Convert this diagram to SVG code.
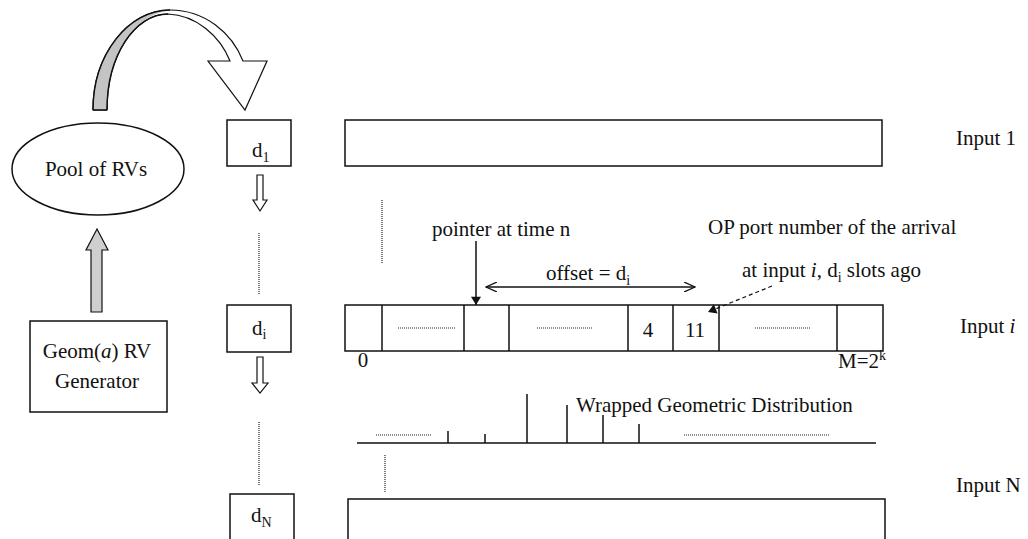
<svg xmlns="http://www.w3.org/2000/svg" width="1028" height="539" viewBox="0 0 1028 539" font-family="'Liberation Serif','Times New Roman',serif">
<style>
text{font-family:"Liberation Serif","Times New Roman",serif;font-size:21px;fill:#111}
.sub{font-size:14px}
.box{fill:#fff;stroke:#111;stroke-width:1.5}
.ln{stroke:#111;stroke-width:1.5;fill:none}
.dot{stroke:#222;stroke-width:1.2;stroke-dasharray:1 1;fill:none}
.hollow{fill:#fff;stroke:#111;stroke-width:1.2}
.gray{fill:#cfcfcf;stroke:#111;stroke-width:1.2}
</style>
<defs>
<marker id="open" viewBox="0 0 12 10" refX="11" refY="5" markerWidth="12" markerHeight="10" markerUnits="userSpaceOnUse" orient="auto-start-reverse">
<path d="M0,0 L11,5 L0,10" fill="none" stroke="#111" stroke-width="1.3"/>
</marker>
<marker id="fill" viewBox="0 0 10 12" refX="10" refY="6" markerWidth="12" markerHeight="10" markerUnits="userSpaceOnUse" orient="auto">
<path d="M0,0 L10,6 L0,12 Z" fill="#111"/>
</marker>
</defs>
<rect width="1028" height="539" fill="#fff"/>

<g id="curved-arrow">
<path class="hollow" d="M93,110 C93,55 128,10 170,10 C205,10 232,33 243,61 L267,61 L245,110 L208,61 L230,61 C220,36 196,15 168,14 C135,14 107,55 107,110 Z"/>
<path d="M93.6,109.4 C93.6,55 128,10.6 169,10.6 C135,14.5 106.4,55 106.4,109.4 Z" fill="#c4c4c4"/>
<path class="ln" d="M93,110 C93,55 128,10 170,10 M107,110 C107,55 135,14 168,14 M93,110 L107,110" stroke-width="1.2"/>
</g>

<g id="pool">
<ellipse cx="98" cy="169" rx="86" ry="46" class="box" stroke-width="1.2"/>
<text x="96" y="176" text-anchor="middle">Pool of RVs</text>
</g>

<g id="gen-arrow">
<path class="gray" d="M91,312 L91,250 L86,250 L97,229 L108,250 L102,250 L102,312 Z"/>
</g>

<g id="generator">
<rect x="30" y="321" width="137" height="91" class="box"/>
<text x="97" y="358" text-anchor="middle">Geom(<tspan font-style="italic">a</tspan>) RV</text>
<text x="97" y="388" text-anchor="middle">Generator</text>
</g>

<g id="d1">
<rect x="227" y="120" width="64" height="46" class="box"/>
<text x="252" y="157">d<tspan class="sub" dy="5">1</tspan></text>
</g>
<g id="di">
<rect x="227" y="305" width="64" height="47" class="box"/>
<text x="252" y="335">d<tspan class="sub" dy="4">i</tspan></text>
</g>
<g id="dN">
<rect x="230" y="494" width="64" height="48" class="box"/>
<text x="251" y="522">d<tspan class="sub" dy="5">N</tspan></text>
</g>

<g id="input1">
<rect x="345" y="120" width="537" height="46" class="box"/>
<text x="956" y="145">Input 1</text>
</g>

<g id="inputi">
<rect x="345" y="305" width="538" height="46" class="box"/>
<path class="ln" d="M382,305 V351 M464,305 V351 M509,305 V351 M628,305 V351 M673,305 V351 M719,305 V351 M837,305 V351"/>
<path class="dot" d="M398,328 H456 M537,328 H593 M755,328 H811"/>
<text x="648" y="337" text-anchor="middle">4</text>
<text x="695" y="337" text-anchor="middle">11</text>
<text x="363" y="367" text-anchor="middle">0</text>
<text x="838" y="368">M=2<tspan class="sub" dy="-8">k</tspan></text>
<text x="960" y="333">Input <tspan font-style="italic">i</tspan></text>
</g>

<g id="distribution">
<path class="ln" d="M357,443 H876 M448,443 V431 M485,443 V434 M527,443 V394 M567,443 V405 M603,443 V415 M639,443 V424"/>
<path class="dot" d="M376,435 H431 M684,435 H829"/>
<text x="576" y="412">Wrapped Geometric Distribution</text>
</g>

<g id="inputN">
<rect x="348" y="499" width="537" height="43" class="box"/>
<text x="956" y="492">Input N</text>
</g>

<g id="labels">
<text x="432" y="236">pointer at time n</text>
<text x="708" y="234">OP port number of the arrival</text>
<text x="546" y="280">offset = d<tspan class="sub" dy="5">i</tspan></text>
<text x="742" y="277">at input <tspan font-style="italic">i</tspan>, d<tspan class="sub" dy="5">i</tspan><tspan dy="-5"> slots ago</tspan></text>
</g>

<g id="connectors">
<path class="hollow" d="M257,175 V200 H253 L260,211 L267,200 H263 V175 Z"/>
<path class="hollow" d="M257,357 V383 H252 L260,393 L268,383 H263 V357 Z"/>
<path class="dot" d="M259,233 V295 M259,422 V485 M382,200 V263 M385,455 V493"/>
<line x1="476" y1="241" x2="476" y2="305" stroke="#111" stroke-width="1.5" marker-end="url(#fill)"/>
<line x1="486" y1="287" x2="695" y2="287" stroke="#111" stroke-width="1.3" marker-start="url(#open)" marker-end="url(#open)"/>
<line x1="772" y1="286" x2="708" y2="312" stroke="#111" stroke-width="1.2" stroke-dasharray="4 3" marker-end="url(#fill)"/>
</g>
</svg>
